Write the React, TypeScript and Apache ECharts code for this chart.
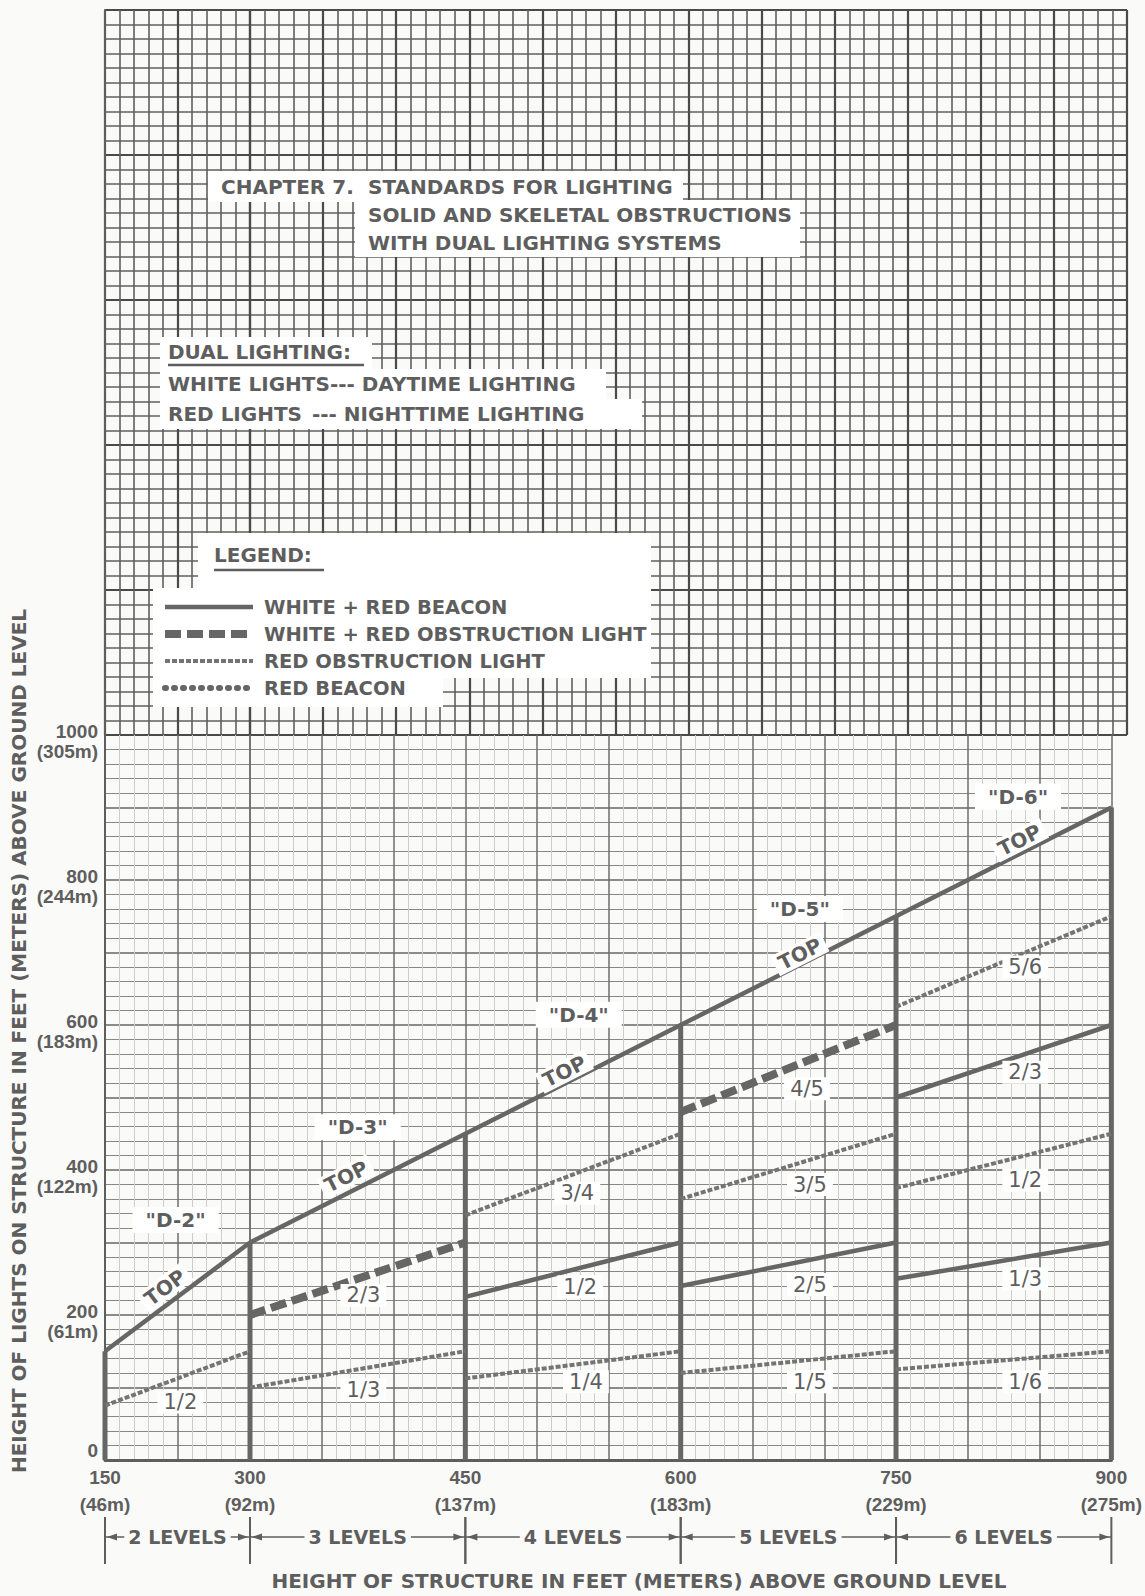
import { useEffect, useRef } from "react";
import * as echarts from "echarts";

// ---------- tick labels ----------
const xTickValues = [150, 300, 450, 600, 750, 900];
const xTickMeters = ["(46m)", "(92m)", "(137m)", "(183m)", "(229m)", "(275m)"];
const yTickValues = [0, 200, 400, 600, 800, 1000];
const yTickMeters = ["", "(61m)", "(122m)", "(183m)", "(244m)", "(305m)"];

// ---------- TOP light line (structure height) ----------
const topLineLow = [[150, 150], [300, 300]];
const topLineHigh = [[300, 300], [450, 450], [600, 600], [750, 750], [900, 900]];

// ---------- structure dividers ----------
const dividerX = [150, 300, 450, 600, 750, 900];
const dividerTop = [150, 300, 450, 600, 750, 900];

// ---------- light level segments [x0, y0, x1, y1] ----------
const whiteRedBeacon = [
  [450, 225, 600, 300],
  [600, 240, 750, 300],
  [750, 500, 900, 600],
  [750, 250, 900, 300],
];
const whiteRedObstruction = [
  [300, 200, 450, 300],
  [600, 480, 750, 600],
];
const redObstruction = [
  [150, 75, 300, 150],
  [300, 100, 450, 150],
  [450, 337.5, 600, 450],
  [450, 112.5, 600, 150],
  [600, 360, 750, 450],
  [600, 120, 750, 150],
  [750, 625, 900, 750],
  [750, 375, 900, 450],
  [750, 125, 900, 150],
];

// ---------- level brackets ----------
const levelStart = [150, 300, 450, 600, 750];
const levelEnd = [300, 450, 600, 750, 900];
const levelLabels = ["2 LEVELS", "3 LEVELS", "4 LEVELS", "5 LEVELS", "6 LEVELS"];

// ---------- annotations ----------
const designationLabels = ['"D-2"', '"D-3"', '"D-4"', '"D-5"', '"D-6"'];
const designationX = [223, 375, 529, 683, 835];
const designationY = [331, 459, 614, 760, 915];
const topLabelX = [212, 367, 519, 683, 836];
const topLabelY = [238, 391, 536, 698, 855];
const fractionLabels = ["1/2", "2/3", "1/3", "3/4", "1/2", "1/4", "4/5", "3/5", "2/5", "1/5", "5/6", "2/3", "1/2", "1/3", "1/6"];
const fractionX = [228, 379, 379, 528, 530, 534, 688, 690, 690, 690, 840, 840, 840, 840, 840];
const fractionY = [80, 227, 97, 368, 239, 108, 512, 380, 242, 108, 680, 535, 386, 250, 108];

const BEACON = "WHITE + RED BEACON";
const WR_OBS = "WHITE + RED OBSTRUCTION LIGHT";
const R_OBS = "RED OBSTRUCTION LIGHT";
const R_BEACON = "RED BEACON";

const FONT = '"DejaVu Sans", "Liberation Sans", sans-serif';
const NUM_FONT = '"Liberation Sans", Arial, sans-serif';
const INK = "#5e5e5e";
const LINE_INK = "#666666";
const PAPER = "#fafaf8";
const BREAK_X = 300;

const beaconStyle = { color: LINE_INK, width: 4.5, type: "solid" as any };
const dividerStyle = { color: LINE_INK, width: 5, type: "solid" as any };
const wrObsStyle = { color: LINE_INK, width: 8, type: [16, 6] as any };
const rObsStyle = { color: "#747474", width: 4, type: [5, 2] as any };
const rBeaconStyle = { color: LINE_INK, width: 6, type: [1, 8] as any, cap: "round" as any };

const gridOf = (x: number) => (x < BREAK_X ? 0 : 1);

function lineSeries(name: string, g: number, data: number[][], lineStyle: any) {
  return {
    type: "line",
    name,
    xAxisIndex: g,
    yAxisIndex: g,
    data,
    symbol: "none",
    showSymbol: false,
    lineStyle,
    clip: false,
    silent: true,
    z: 3,
    emphasis: { disabled: true },
  };
}

function topSegmentAt(x: number) {
  const pts = x < BREAK_X ? topLineLow : topLineHigh;
  for (let i = 0; i < pts.length - 1; i++) {
    if (x >= pts[i][0] && x <= pts[i + 1][0]) return [pts[i], pts[i + 1]];
  }
  return [pts[0], pts[1]];
}

type Ann = { x: number; y: number; text: string; kind: "d" | "top" | "frac" };
const annotations: Ann[] = [
  ...designationLabels.map((t, i) => ({ x: designationX[i], y: designationY[i], text: t, kind: "d" as const })),
  ...topLabelX.map((x, i) => ({ x, y: topLabelY[i], text: "TOP", kind: "top" as const })),
  ...fractionLabels.map((t, i) => ({ x: fractionX[i], y: fractionY[i], text: t, kind: "frac" as const })),
];

function annotationSeries(g: number) {
  const items = annotations.filter((a) => gridOf(a.x) === g);
  return {
    type: "custom",
    coordinateSystem: "cartesian2d",
    xAxisIndex: g,
    yAxisIndex: g,
    clip: false,
    silent: true,
    z: 6,
    data: items.map((a) => [a.x, a.y]),
    encode: { x: 0, y: 1 },
    renderItem: (params: any, api: any) => {
      const it = items[params.dataIndex];
      const p = api.coord([api.value(0), api.value(1)]);
      let rotation = 0;
      if (it.kind === "top") {
        const seg = topSegmentAt(it.x);
        const a = api.coord(seg[0]);
        const b = api.coord(seg[1]);
        rotation = Math.atan2(a[1] - b[1], b[0] - a[0]);
      }
      const font = it.kind === "frac" ? `normal 21px ${FONT}` : `bold 20px ${FONT}`;
      const padding = it.kind === "d" ? [3, 13] : it.kind === "top" ? [1, 5] : [1, 6];
      return {
        type: "text",
        x: p[0],
        y: p[1],
        rotation,
        style: {
          text: it.text,
          x: 0,
          y: 0,
          textAlign: "center",
          textVerticalAlign: "middle",
          align: "center",
          verticalAlign: "middle",
          font,
          fill: INK,
          backgroundColor: "#ffffff",
          padding,
        },
      };
    },
  };
}

function levelSeries(g: number) {
  const idx = levelStart.map((_, i) => i).filter((i) => gridOf(levelStart[i]) === g);
  return {
    type: "custom",
    coordinateSystem: "cartesian2d",
    xAxisIndex: g,
    yAxisIndex: g,
    clip: false,
    silent: true,
    z: 5,
    data: idx.map((i) => [levelStart[i], levelEnd[i], 0]),
    encode: { x: [0, 1], y: 2 },
    renderItem: (params: any, api: any) => {
      const i = idx[params.dataIndex];
      const a = api.coord([api.value(0), api.value(2)]);
      const b = api.coord([api.value(1), api.value(2)]);
      const y = a[1] + 77;
      const mid = (a[0] + b[0]) / 2;
      return {
        type: "group",
        children: [
          { type: "line", shape: { x1: a[0], y1: y, x2: b[0], y2: y }, style: { stroke: INK, lineWidth: 1.6 } },
          { type: "line", shape: { x1: a[0], y1: y - 20, x2: a[0], y2: y + 27 }, style: { stroke: INK, lineWidth: 2 } },
          { type: "line", shape: { x1: b[0], y1: y - 20, x2: b[0], y2: y + 27 }, style: { stroke: INK, lineWidth: 2 } },
          { type: "polygon", shape: { points: [[a[0] + 2, y], [a[0] + 12, y - 3.5], [a[0] + 12, y + 3.5]] }, style: { fill: INK } },
          { type: "polygon", shape: { points: [[b[0] - 2, y], [b[0] - 12, y - 3.5], [b[0] - 12, y + 3.5]] }, style: { fill: INK } },
          {
            type: "text",
            x: mid,
            y,
            style: {
              text: levelLabels[i],
              x: 0,
              y: 0,
              textAlign: "center",
              textVerticalAlign: "middle",
              align: "center",
              verticalAlign: "middle",
              font: `bold 19px ${FONT}`,
              fill: INK,
              backgroundColor: PAPER,
              padding: [2, 4],
            },
          },
        ],
      };
    },
  };
}

function makeXAxis(g: number, high: boolean, labelValues: number[]) {
  const first = g % 2 === 0;
  return {
    type: "value",
    gridIndex: g,
    min: first ? 150 : 300,
    max: first ? 300 : 900,
    interval: first ? 75 : 50,
    axisLine: { show: !high, onZero: false, lineStyle: { color: INK, width: 3 } },
    axisTick: { show: false },
    axisLabel: high
      ? { show: false }
      : {
          show: true,
          showMinLabel: true,
          showMaxLabel: true,
          margin: 4,
          fontFamily: NUM_FONT,
          fontWeight: "bold",
          fontSize: 19,
          lineHeight: 27,
          color: INK,
          formatter: (v: number) => {
            if (labelValues.indexOf(v) < 0) return "";
            const i = xTickValues.indexOf(v);
            return `${v}\n${xTickMeters[i]}`;
          },
        },
    splitLine: { show: true, lineStyle: high ? { color: "#4a4a4a", width: 2.2 } : { color: "#6e6e6e", width: 1.5 } },
    minorTick: { show: false, splitNumber: 5 },
    minorSplitLine: {
      show: true,
      lineStyle: high ? { color: "#5f5f5f", width: 1.6 } : { color: "#cdcdcd", width: 1 },
    },
  };
}

function makeYAxis(g: number, high: boolean) {
  const left = g % 2 === 0;
  const numStyle = { fontFamily: NUM_FONT, fontWeight: "bold", fontSize: 19, lineHeight: 20, color: INK };
  return {
    type: "value",
    gridIndex: g,
    min: high ? 1000 : 0,
    max: high ? 2000 : 1000,
    interval: high ? 200 : 100,
    axisLine: { show: left, lineStyle: { color: INK, width: 2 } },
    axisTick: { show: false },
    axisLabel:
      !high && left
        ? {
            show: true,
            showMinLabel: true,
            showMaxLabel: true,
            margin: 7,
            formatter: (v: number) => {
              const i = yTickValues.indexOf(v);
              if (i < 0) return "";
              return yTickMeters[i] ? `{s| }\n{n|${v}}\n{n|${yTickMeters[i]}}` : `{n|${v}}\n{n| }`;
            },
            rich: {
              n: numStyle,
              s: { fontSize: 10, lineHeight: 12 },
            },
          }
        : { show: false },
    splitLine: { show: true, lineStyle: high ? { color: "#4a4a4a", width: 2.2 } : { color: "#666666", width: 1.6 } },
    minorTick: { show: false, splitNumber: high ? 10 : 5 },
    minorSplitLine: {
      show: true,
      lineStyle: high ? { color: "#5f5f5f", width: 1.6 } : { color: "#878787", width: 1.2 },
    },
  };
}

function buildOption() {
  const series: any[] = [];
  series.push(lineSeries(BEACON, 0, topLineLow, beaconStyle));
  series.push(lineSeries(BEACON, 1, topLineHigh, beaconStyle));
  dividerX.forEach((x, i) => series.push(lineSeries(BEACON, gridOf(x), [[x, 0], [x, dividerTop[i]]], dividerStyle)));
  whiteRedBeacon.forEach((s) => series.push(lineSeries(BEACON, gridOf(s[0]), [[s[0], s[1]], [s[2], s[3]]], beaconStyle)));
  whiteRedObstruction.forEach((s) => series.push(lineSeries(WR_OBS, gridOf(s[0]), [[s[0], s[1]], [s[2], s[3]]], wrObsStyle)));
  redObstruction.forEach((s) => series.push(lineSeries(R_OBS, gridOf(s[0]), [[s[0], s[1]], [s[2], s[3]]], rObsStyle)));
  series.push(lineSeries(R_BEACON, 1, [], rBeaconStyle));
  series.push(annotationSeries(0));
  series.push(annotationSeries(1));
  series.push(levelSeries(0));
  series.push(levelSeries(1));

  const lowA = xTickValues.filter((v) => v < BREAK_X);
  const lowB = xTickValues.filter((v) => v >= BREAK_X);

  const txt = (text: string, x: number, y: number, align = "left", rotation = 0) => ({
    type: "text",
    x,
    y,
    rotation,
    z: 11,
    silent: true,
    style: {
      text,
      x: 0,
      y: 0,
      font: `bold 20px ${FONT}`,
      fill: INK,
      textAlign: align,
      textVerticalAlign: "middle",
      align,
      verticalAlign: "middle",
    },
  });
  const box = (x: number, y: number, w: number, h: number) => ({
    type: "rect",
    z: 3,
    silent: true,
    shape: { x, y, width: w, height: h },
    style: { fill: "#ffffff" },
  });

  return {
    animation: false,
    backgroundColor: PAPER,
    textStyle: { fontFamily: FONT },
    grid: [
      { left: 105, top: 735, width: 145, height: 725 },
      { left: 250, top: 735, width: 877, height: 725 },
      { left: 105, top: 10, width: 145, height: 725 },
      { left: 250, top: 10, width: 877, height: 725 },
    ],
    xAxis: [
      makeXAxis(0, false, lowA),
      makeXAxis(1, false, lowB),
      makeXAxis(2, true, []),
      makeXAxis(3, true, []),
    ],
    yAxis: [makeYAxis(0, false), makeYAxis(1, false), makeYAxis(2, true), makeYAxis(3, true)],
    legend: {
      show: true,
      orient: "vertical",
      left: 161,
      top: 597,
      itemGap: 7,
      itemWidth: 88,
      itemHeight: 20,
      padding: 0,
      selectedMode: false,
      z: 10,
      textStyle: { fontFamily: FONT, fontWeight: "bold", fontSize: 19.5, color: INK, padding: [0, 0, 0, 6] },
      data: [
        { name: BEACON, lineStyle: { ...beaconStyle }, itemStyle: { opacity: 0 } },
        { name: WR_OBS, lineStyle: { ...wrObsStyle }, itemStyle: { opacity: 0 } },
        { name: R_OBS, lineStyle: { ...rObsStyle }, itemStyle: { opacity: 0 } },
        { name: R_BEACON, lineStyle: { ...rBeaconStyle }, itemStyle: { opacity: 0 } },
      ],
    },
    graphic: [
      // chapter heading
      box(208, 171, 475, 31),
      box(355, 200, 445, 57),
      txt("CHAPTER 7.", 221, 187),
      txt("STANDARDS FOR LIGHTING", 368, 187),
      txt("SOLID AND SKELETAL OBSTRUCTIONS", 368, 215),
      txt("WITH DUAL LIGHTING SYSTEMS", 368, 243),
      // dual lighting
      box(160, 337, 212, 33),
      box(160, 369, 446, 30),
      box(160, 399, 482, 30),
      txt("DUAL LIGHTING:", 168, 352),
      { type: "line", z: 11, silent: true, shape: { x1: 168, y1: 365, x2: 364, y2: 365 }, style: { stroke: INK, lineWidth: 2.5 } },
      txt("WHITE LIGHTS--- DAYTIME LIGHTING", 168, 384),
      txt("RED LIGHTS", 168, 414),
      txt("--- NIGHTTIME LIGHTING", 312, 414),
      // legend block
      box(198, 533, 453, 56),
      box(153, 588, 498, 90),
      box(153, 677, 290, 30),
      txt("LEGEND:", 214, 555),
      { type: "line", z: 11, silent: true, shape: { x1: 214, y1: 570, x2: 324, y2: 570 }, style: { stroke: INK, lineWidth: 2.5 } },
      // axis titles
      txt("HEIGHT OF LIGHTS ON STRUCTURE IN FEET (METERS) ABOVE GROUND LEVEL", 19, 1041, "center", Math.PI / 2),
      txt("HEIGHT OF STRUCTURE IN FEET (METERS) ABOVE GROUND LEVEL", 639, 1581, "center"),
    ],
    series,
  };
}

export default function App() {
  const ref = useRef<HTMLDivElement>(null);
  useEffect(() => {
    if (!ref.current) return;
    const chart = echarts.init(ref.current, undefined, { renderer: "svg" });
    chart.setOption(buildOption() as any);
    return () => chart.dispose();
  }, []);
  return (
    <div
      ref={ref}
      style={{ position: "absolute", left: 0, top: 0, width: 1145, height: 1596, background: PAPER }}
    />
  );
}
